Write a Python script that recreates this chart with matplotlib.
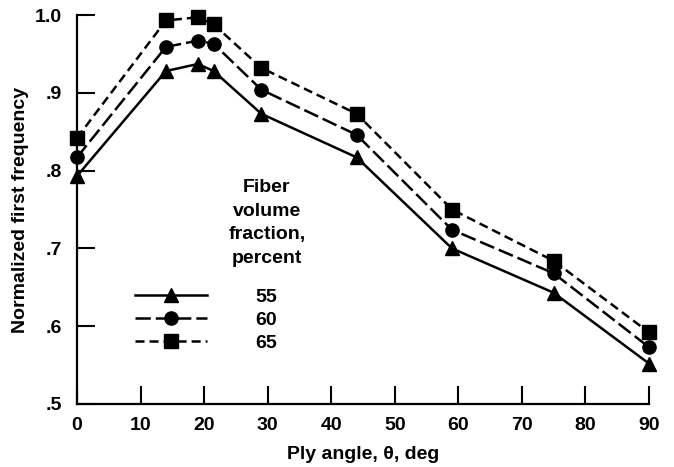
import matplotlib
matplotlib.use("Agg")
import matplotlib.pyplot as plt

# Ply angle (deg) and normalized first frequency for each fiber volume fraction
ply_angle = [0, 14, 19, 21.5, 29, 44, 59, 75, 90]
freq_55 = [0.793, 0.928, 0.937, 0.928, 0.873, 0.817, 0.700, 0.643, 0.552]
freq_60 = [0.817, 0.959, 0.967, 0.963, 0.904, 0.846, 0.724, 0.668, 0.573]
freq_65 = [0.842, 0.993, 0.997, 0.988, 0.932, 0.873, 0.750, 0.684, 0.592]
volume_labels = ["55", "60", "65"]

x_ticks = [0, 10, 20, 30, 40, 50, 60, 70, 80, 90]
y_ticks = [0.5, 0.6, 0.7, 0.8, 0.9, 1.0]
y_tick_labels = [".5", ".6", ".7", ".8", ".9", "1.0"]

plt.rcParams["font.family"] = ["Liberation Sans", "DejaVu Sans"]
plt.rcParams["lines.scale_dashes"] = False

fig = plt.figure(figsize=(6.74, 4.67), dpi=100)
ax = fig.add_axes([77 / 674, 1 - 404 / 467, 572 / 674, 389 / 467])

lw = 1.8
common = dict(color="black", lw=lw, clip_on=False, zorder=3)
l55, = ax.plot(ply_angle, freq_55, linestyle="-", marker="^", ms=10, **common)
l60, = ax.plot(ply_angle, freq_60, linestyle=(0, (11, 3.6)), marker="o", ms=9.5, **common)
l65, = ax.plot(ply_angle, freq_65, linestyle=(0, (6.5, 3.6)), marker="s", ms=9.5, **common)

ax.set_xlim(0, 90)
ax.set_ylim(0.5, 1.0)
ax.set_xticks(x_ticks)
ax.set_yticks(y_ticks)
ax.set_yticklabels(y_tick_labels)

for side in ("top", "right"):
    ax.spines[side].set_visible(False)
for side in ("left", "bottom"):
    ax.spines[side].set_linewidth(1.6)

ax.tick_params(axis="both", direction="in", length=13, width=1.5,
               labelsize=14)
ax.tick_params(axis="x", pad=9)
ax.tick_params(axis="y", pad=11)
for lab in ax.get_xticklabels() + ax.get_yticklabels():
    lab.set_fontweight("bold")

ax.set_xlabel("Ply angle, θ, deg", fontsize=14, fontweight="bold", labelpad=9)
ax.set_ylabel("Normalized first frequency", fontsize=14, fontweight="bold", labelpad=4)

# Legend: heading text above the entries
fig.text(267 / 674, 1 - 223 / 467, "Fiber\nvolume\nfraction,\npercent",
         ha="center", va="center", fontsize=14, fontweight="bold",
         linespacing=1.5)
leg = ax.legend([l55, l60, l65], volume_labels, loc="upper left",
                bbox_to_anchor=(135 / 674, 1 - 288 / 467),
                bbox_transform=fig.transFigure, frameon=False,
                handlelength=3.7, handletextpad=2.5, labelspacing=0.28,
                borderpad=0, borderaxespad=0,
                prop={"size": 14, "weight": "bold"})

fig.savefig("out.png", dpi=100)
